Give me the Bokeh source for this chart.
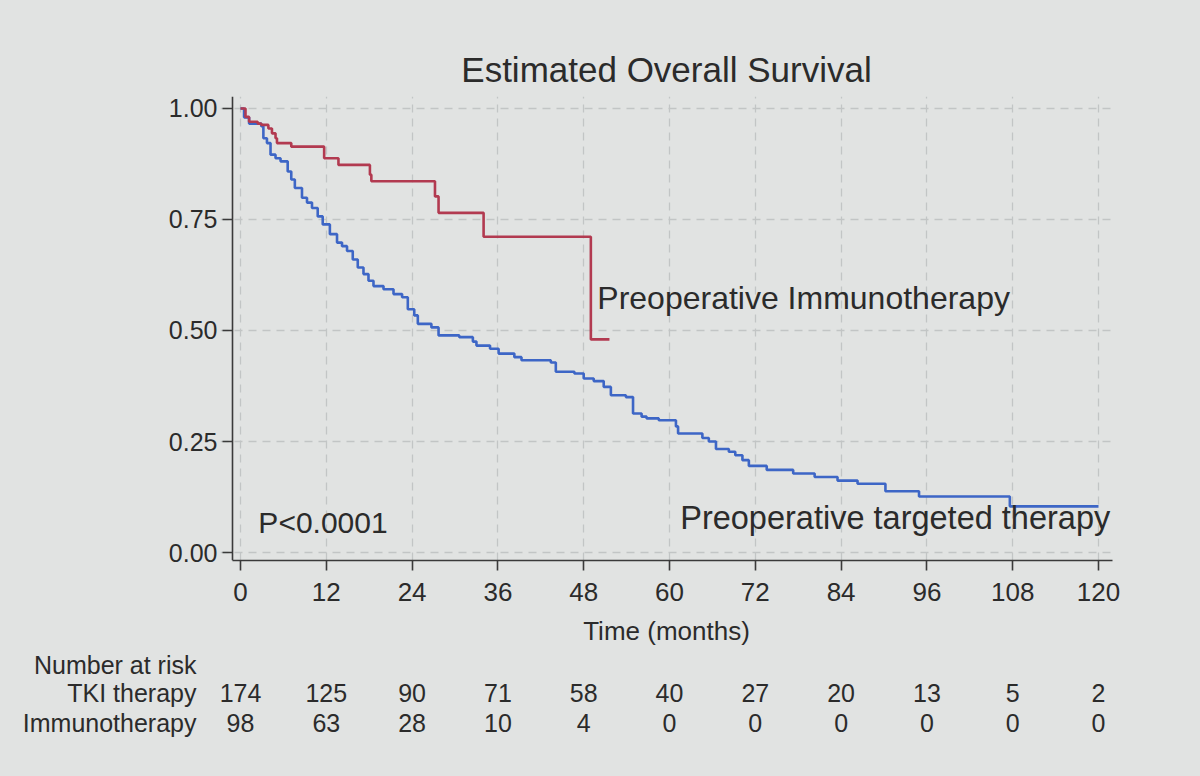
from bokeh.plotting import figure
from bokeh.models import (Range1d, Label, PrintfTickFormatter, ColumnDataSource,
                          FixedTicker, LinearAxis)
from bokeh.layouts import column
from bokeh.core.properties import value
from bokeh.embed import file_html
from bokeh.resources import INLINE

# ---------------- data ----------------
# Preoperative targeted therapy (TKI) Kaplan-Meier steps
tki_time = [0, 0.5, 1.2, 2.9, 3.2, 3.7, 4.2, 4.9, 5.6, 6.6, 7.1, 7.6, 8.6, 9.3,
            10.0, 10.8, 11.5, 12.5, 13.5, 14.2, 14.9, 15.7, 16.4, 17.2, 17.9,
            18.6, 20.0, 21.4, 22.6, 23.4, 24.3, 24.8, 26.7, 27.7, 30.6, 32.5,
            33.0, 34.9, 36.1, 38.3, 39.3, 43.4, 44.1, 46.7, 48.0, 49.4, 50.8,
            51.8, 53.9, 54.9, 56.1, 56.8, 58.5, 60.9, 61.2, 64.6, 65.5, 66.5,
            68.3, 69.2, 70.2, 71.1, 73.6, 77.3, 80.3, 83.5, 86.3, 90.2, 94.9,
            107.6, 120.0]
tki_surv = [1.0, 0.98, 0.966, 0.96, 0.933, 0.922, 0.896, 0.888, 0.881, 0.858,
            0.840, 0.821, 0.799, 0.788, 0.776, 0.757, 0.739, 0.717, 0.698,
            0.690, 0.679, 0.660, 0.642, 0.627, 0.612, 0.600, 0.593, 0.582,
            0.575, 0.548, 0.534, 0.515, 0.507, 0.489, 0.485, 0.475, 0.466,
            0.459, 0.448, 0.440, 0.433, 0.428, 0.407, 0.403, 0.392, 0.386,
            0.373, 0.354, 0.350, 0.313, 0.306, 0.302, 0.298, 0.284, 0.268,
            0.258, 0.250, 0.233, 0.227, 0.219, 0.208, 0.195, 0.186, 0.178,
            0.170, 0.162, 0.155, 0.138, 0.126, 0.104, 0.104]

# Preoperative immunotherapy Kaplan-Meier steps
immuno_time = [0, 0.7, 1.2, 2.4, 2.9, 3.9, 4.4, 4.9, 5.1, 7.1, 11.7, 13.7,
               18.1, 18.3, 27.2, 27.7, 34.0, 49.0, 51.6]
immuno_surv = [1.0, 0.981, 0.970, 0.966, 0.963, 0.955, 0.944, 0.933, 0.922,
               0.914, 0.888, 0.873, 0.851, 0.836, 0.802, 0.765, 0.711, 0.48,
               0.48]

# Number at risk
risk_times = [0, 12, 24, 36, 48, 60, 72, 84, 96, 108, 120]
tki_risk = [174, 125, 90, 71, 58, 40, 27, 20, 13, 5, 2]
immuno_risk = [98, 63, 28, 10, 4, 0, 0, 0, 0, 0, 0]
risk_header = "Number at risk"
risk_rows = ["TKI therapy", "Immunotherapy"]

y_ticks = [0, 0.25, 0.5, 0.75, 1.0]

# ---------------- styling ----------------
BG = "#e1e3e2"
TXT = "#2b2b2b"
AX = "#3a3a3a"
FONT = "Liberation Sans"
RED = "#b23a50"
BLUE = "#3d66c6"

W = 1200
LEFT, RIGHT = 220, 88
X_START, X_END = -2.797, 121.958   # frame spans the risk-table column at 0
Y_AXIS_AT = -1.12                   # y axis drawn a little left of time 0

p = figure(width=W, height=650, output_backend="svg", toolbar_location=None,
           x_range=Range1d(X_START, X_END), y_range=Range1d(-0.018, 1.027),
           min_border_left=LEFT, min_border_right=RIGHT,
           min_border_top=96, min_border_bottom=90)

p.background_fill_color = None
p.border_fill_color = BG
p.outline_line_color = None

p.title.text = "Estimated Overall Survival"
p.title.align = "center"
p.title.text_font = FONT
p.title.text_font_size = "35px"
p.title.text_font_style = "normal"
p.title.text_color = TXT
p.title.standoff = 15

# x axis
xa = p.xaxis[0]
xa.ticker = risk_times
xa.bounds = (Y_AXIS_AT, X_END)
xa.axis_line_color = AX
xa.axis_line_width = 1.6
xa.major_tick_line_color = AX
xa.major_tick_line_width = 1.6
xa.major_tick_out = 10
xa.major_tick_in = 0
xa.minor_tick_line_color = None
xa.major_label_text_font = FONT
xa.major_label_text_color = TXT
xa.major_label_text_font_size = "26px"
xa.major_label_standoff = 12
xa.axis_label = "Time (months)"
xa.axis_label_text_font = FONT
xa.axis_label_text_font_style = "normal"
xa.axis_label_text_font_size = "26px"
xa.axis_label_text_color = TXT
xa.axis_label_standoff = 12

# y axis: tick labels at the frame edge ...
ya0 = p.yaxis[0]
ya0.ticker = y_ticks
ya0.formatter = PrintfTickFormatter(format="%.2f")
ya0.axis_line_color = None
ya0.major_tick_line_color = None
ya0.minor_tick_line_color = None
ya0.major_tick_out = 0
ya0.major_tick_in = 0
ya0.major_label_standoff = 3
ya0.major_label_text_font = FONT
ya0.major_label_text_font_size = "25px"
ya0.major_label_text_color = TXT

# ... and the axis line with ticks at its own position
ya_line = LinearAxis(ticker=FixedTicker(ticks=y_ticks), fixed_location=Y_AXIS_AT,
                     axis_line_color=AX, axis_line_width=1.6,
                     major_tick_line_color=AX, major_tick_line_width=1.6,
                     major_tick_out=10, major_tick_in=0,
                     minor_tick_line_color=None,
                     major_label_text_color=None, major_label_text_font_size="10px")
p.add_layout(ya_line, "left")

for g in (p.xgrid[0], p.ygrid[0]):
    g.grid_line_color = "#c2c5c5"
    g.grid_line_dash = "8 6"
    g.grid_line_width = 1.3

# curves
p.step(tki_time, tki_surv, mode="after", line_color=BLUE, line_width=2.6)
p.step(immuno_time, immuno_surv, mode="after", line_color=RED, line_width=2.6)

# annotations inside plot
def add_label(fig, x, y, text, size, align="left", baseline="middle"):
    fig.add_layout(Label(x=x, y=y, text=text, text_font=FONT,
                         text_font_size=size, text_color=TXT,
                         text_align=align, text_baseline=baseline))

add_label(p, 49.9, 0.574, "Preoperative Immunotherapy", "32px")
add_label(p, 61.5, 0.077, "Preoperative targeted therapy", "32.5px")
add_label(p, 2.5, 0.068, "P<0.0001", "30px")

# ---------------- number at risk table (second panel, shared x scale) ----------------
TH = 126
ROW_Y = [112, 84, 54]   # header, TKI, immunotherapy (panel pixel rows)
t = figure(width=W, height=TH, output_backend="svg", toolbar_location=None,
           x_range=p.x_range, y_range=Range1d(0, TH),
           min_border_left=LEFT, min_border_right=RIGHT,
           min_border_top=0, min_border_bottom=0)
t.xaxis.visible = False
t.grid.visible = False
t.background_fill_color = None
t.border_fill_color = BG
t.outline_line_color = None

ya = t.yaxis[0]
ya.ticker = FixedTicker(ticks=ROW_Y)
ya.major_label_overrides = {ROW_Y[0]: risk_header, ROW_Y[1]: risk_rows[0],
                            ROW_Y[2]: risk_rows[1]}
ya.axis_line_color = None
ya.major_tick_line_color = None
ya.minor_tick_line_color = None
ya.major_tick_out = 0
ya.major_label_standoff = 24
ya.major_label_text_font = FONT
ya.major_label_text_font_size = "25px"
ya.major_label_text_color = TXT

src = ColumnDataSource(dict(
    x=risk_times + risk_times,
    y=[ROW_Y[1]] * len(risk_times) + [ROW_Y[2]] * len(risk_times),
    txt=[str(v) for v in tki_risk] + [str(v) for v in immuno_risk]))
t.text(x="x", y="y", text="txt", source=src, text_font=value(FONT),
       text_font_size="25px", text_color=TXT, text_align="center",
       text_baseline="middle")

layout = column(p, t, spacing=0, styles={"background-color": BG})
open("out.html", "w").write(file_html(layout, INLINE))
